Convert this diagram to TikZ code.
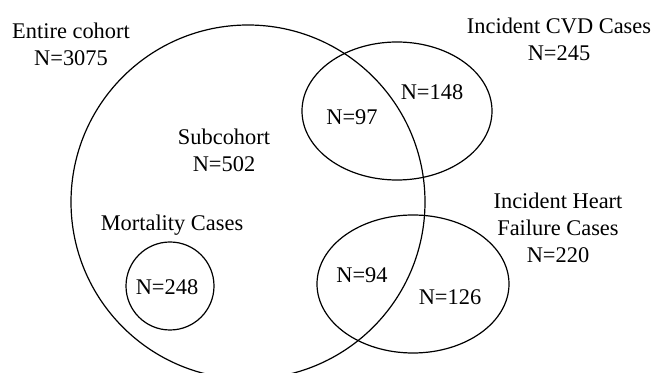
\documentclass[tikz,border=0pt]{standalone}
\usepackage{fontspec}
\setmainfont{Liberation Serif}
\usetikzlibrary{shapes.geometric}

\tikzset{
  setshape/.style={draw, line width=0.6pt, inner sep=0pt},
  setlabel/.style={align=center, inner sep=0pt, font=\fontsize{11.2}{13.5}\selectfont}
}

\begin{document}
\begin{tikzpicture}[x=0.5pt,y=-0.5pt]
    \useasboundingbox (0,0) rectangle (654,373);

    % Sets
    \node[setshape,circle,minimum size=177pt] (cohort) at (248,202) {};
    \node[setshape,ellipse,minimum width=95pt,minimum height=69pt] (cvd) at (397,111) {};
    \node[setshape,ellipse,minimum width=96pt,minimum height=69pt] (hf) at (413,284) {};
    \node[setshape,circle,minimum size=44pt] (mort) at (170,286) {};

    % Set names
    \node[setlabel] (l_cohort) at (71,44) {Entire cohort\\N=3075};
    \node[setlabel] (l_sub) at (224,150) {Subcohort\\N=502};
    \node[setlabel] (l_cvd) at (559,39) {Incident CVD Cases\\N=245};
    \node[setlabel] (l_hf) at (558,228) {Incident Heart\\Failure Cases\\N=220};
    \node[setlabel] (l_mort) at (172,225) {Mortality Cases};

    % Counts
    \node[setlabel] (n_cvdsub) at (352,117) {N=97};
    \node[setlabel] (n_cvd) at (432,92) {N=148};
    \node[setlabel] (n_hfsub) at (362,275) {N=94};
    \node[setlabel] (n_hf) at (450,297) {N=126};
    \node[setlabel] (n_mort) at (167,287) {N=248};
\end{tikzpicture}
\end{document}
